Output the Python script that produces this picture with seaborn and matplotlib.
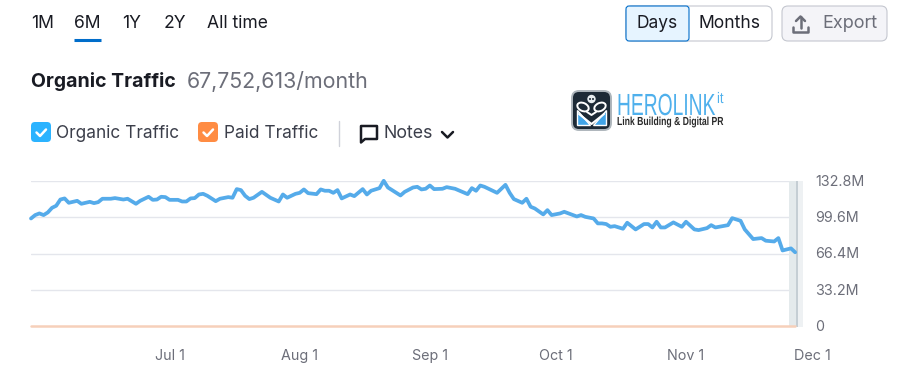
import matplotlib
matplotlib.use("Agg")
import matplotlib.pyplot as plt
import matplotlib.patches as mp
import matplotlib.patheffects as pe
from matplotlib.transforms import Affine2D, ScaledTranslation
import pandas as pd
import seaborn as sns

# days counted from the first day on the chart (May 29)
start = "2024-05-29"
organic_days = [0, 1, 2, 3, 4, 5, 6, 7, 8, 9, 11, 12, 14, 15, 16, 17, 19, 20, 22, 23, 25, 26, 28, 29, 30, 31,
                32, 33, 35, 36, 37, 38, 39, 40, 41, 42, 44, 45, 47, 48, 49, 50, 51, 52, 53, 55, 57, 59, 60, 61,
                63, 64, 65, 66, 68, 69, 70, 71, 72, 73, 74, 76, 77, 79, 80, 81, 83, 84, 85, 86, 88, 89, 91, 92,
                93, 94, 95, 96, 98, 99, 101, 104, 105, 106, 107, 108, 111, 113, 114, 115, 117, 118, 119, 120,
                122, 123, 124, 126, 127, 130, 131, 132, 134, 135, 136, 137, 138, 139, 141, 142, 144, 146, 147,
                148, 149, 150, 151, 153, 155, 156, 158, 159, 161, 162, 163, 166, 167, 169, 170, 172, 174, 175,
                177, 178, 179, 181, 182]
organic_values = [98.6, 101.7, 103.2, 101.7, 104.1, 108.3, 110.2, 115.9, 116.9, 112.9, 114.7, 112.0, 113.8, 112.6,
                  113.5, 116.6, 116.6, 117.2, 115.9, 116.6, 112.0, 114.7, 118.4, 115.6, 115.9, 118.4, 118.1, 115.6,
                  115.6, 114.1, 114.1, 116.9, 117.2, 120.5, 121.1, 119.3, 114.4, 116.6, 118.1, 117.5, 125.4, 124.5,
                  119.3, 116.3, 117.5, 122.9, 117.5, 114.1, 120.5, 117.5, 121.1, 122.0, 125.1, 121.7, 120.8, 125.1,
                  123.9, 123.9, 122.0, 124.5, 116.9, 120.5, 119.0, 125.4, 120.5, 123.9, 126.3, 133.0, 126.9, 124.5,
                  119.6, 122.9, 126.9, 127.5, 125.1, 125.7, 128.7, 125.4, 125.7, 127.2, 125.7, 120.8, 126.3, 123.9,
                  128.7, 127.5, 122.0, 129.3, 122.0, 116.3, 112.9, 116.6, 109.3, 107.7, 102.3, 106.2, 101.7, 103.2,
                  104.7, 100.4, 101.7, 100.1, 98.6, 94.1, 94.1, 93.5, 91.0, 91.6, 89.2, 94.7, 88.6, 93.5, 93.5,
                  90.4, 95.6, 90.4, 90.4, 95.0, 91.0, 95.6, 88.6, 88.0, 89.8, 92.5, 90.4, 92.5, 98.9, 96.5, 88.6,
                  79.8, 80.7, 78.3, 77.6, 80.7, 69.4, 71.3, 67.75]
paid_days = [0, 60, 120, 182]
paid_values = [0.4, 0.4, 0.4, 0.4]
y_ticks = [0, 33.2, 66.4, 99.6, 132.8]
y_labels = ["0", "33.2M", "66.4M", "99.6M", "132.8M"]
x_ticks = ["2024-07-01", "2024-08-01", "2024-09-01", "2024-10-01", "2024-11-01"]
x_labels = ["Jul 1", "Aug 1", "Sep 1", "Oct 1", "Nov 1"]
last_tick = "2024-12-01"
last_label = "Dec 1"

sns.set_theme(style="white")
plt.rcParams["font.family"] = ["Inter", "DejaVu Sans"]

W, H = 902, 385
GRAY = "#6c6e79"
DARK = "#191b23"
BLUE = "#55abea"

fig = plt.figure(figsize=(W / 100, H / 100), dpi=100)
ax = fig.add_axes([31 / W, 1 - 326.5 / H, (796 - 31) / W, (326.5 - 181) / H])

t0 = pd.Timestamp(start)
organic = pd.DataFrame({"date": t0 + pd.to_timedelta(organic_days, unit="D"), "value": organic_values})
paid = pd.DataFrame({"date": t0 + pd.to_timedelta(paid_days, unit="D"), "value": paid_values})

# hover band at the last day, drawn under the line
ax.axvspan(t0 + pd.Timedelta(days=180.5), t0 + pd.Timedelta(days=182.2), color="#e4eaec", lw=0, clip_on=False, zorder=2)
ax.axvspan(t0 + pd.Timedelta(days=182.2), t0 + pd.Timedelta(days=182.7), color="#c5ced4", lw=0, clip_on=False, zorder=2)
ax.axvspan(t0 + pd.Timedelta(days=182.7), t0 + pd.Timedelta(days=183.8), color="#eef1f3", lw=0, clip_on=False, zorder=2)

sns.lineplot(data=paid, x="date", y="value", color="#f6d0ba", lw=1.8, ax=ax, clip_on=False, zorder=3)
sns.lineplot(data=organic, x="date", y="value", color=BLUE, lw=2.7, ax=ax, clip_on=False, zorder=4,
             solid_joinstyle="round")

ax.set_ylim(0, 132.8)
ax.set_xlabel("")
ax.set_ylabel("")
ax.set_yticks(y_ticks, y_labels)
ax.set_xticks(pd.to_datetime(x_ticks), x_labels)
ax.set_xlim(t0, t0 + pd.Timedelta(days=182.2))
ax.yaxis.tick_right()
ax.tick_params(axis="y", length=0, pad=14, labelsize=10.3, labelcolor=GRAY)
ax.tick_params(axis="x", length=0, pad=16, labelsize=10.3, labelcolor=GRAY)
for lab in ax.get_yticklabels():
    lab.set_transform(lab.get_transform() + ScaledTranslation(0, 1 / 100, fig.dpi_scale_trans))
ax.grid(axis="y", color="#e4e6ec", lw=1)
ax.set_axisbelow(True)
sns.despine(ax=ax, left=True, bottom=True, right=True, top=True)
# Dec 1 sits past the end of the axes, so matplotlib would drop it as a tick
ax.text(pd.Timestamp(last_tick), -29.5 / 145.5 * 132.8, last_label, fontsize=10.3, color=GRAY,
        ha="center", va="center", clip_on=False)

# overlay in pixel coordinates for the page furniture around the chart
ui = fig.add_axes([0, 0, 1, 1], zorder=5)
ui.set_xlim(0, W)
ui.set_ylim(H, 0)
ui.axis("off")
ui.patch.set_alpha(0)


class Squeeze(pe.AbstractPathEffect):
    # squeezes glyphs sideways, no condensed font is installed
    def __init__(self, sx):
        super().__init__()
        self.sx = sx

    def draw_path(self, renderer, gc, tpath, affine, rgbFace=None):
        renderer.draw_path(gc, tpath, Affine2D().scale(self.sx, 1) + affine, rgbFace)


def box(x, y, w, h, fc, ec="none", r=4, lw=0.8, **kw):
    ui.add_patch(mp.FancyBboxPatch((x + r, y + r), w - 2 * r, h - 2 * r, boxstyle=f"round,pad={r}",
                                   fc=fc, ec=ec, lw=lw, **kw))


def txt(x, y, s, size=12.4, color=DARK, **kw):
    ui.text(x, y, s, fontsize=size, color=color, va="center", ha=kw.pop("ha", "left"), **kw)


# range tabs
for x, s in [(31, "1M"), (74, "6M"), (122, "1Y"), (164, "2Y"), (207, "All time")]:
    txt(x, 23.5, s, size=12.6)
ui.plot([74, 101], [40, 40], color="#006dca", lw=2.2, solid_capstyle="butt")

# title
txt(31, 81.5, "Organic Traffic", size=14, fontweight="bold")
txt(187, 81.5, "67,752,613/month", size=15.4, color=GRAY)

# legend
for x, fc, s, tx in [(31, "#2bb3ff", "Organic Traffic", 56), (198, "#ff8c43", "Paid Traffic", 224)]:
    box(x, 122, 20, 20, fc, r=4)
    ui.plot([x + 5.5, x + 9, x + 15], [132.5, 136, 129.5], color="white", lw=1.8)
    txt(tx, 133.5, s, color="#3b3e4a")
ui.plot([338.5, 338.5], [121, 146], color="#d0d2da", lw=1)

# notes icon and chevron
ui.add_patch(mp.Polygon([(361, 126), (377, 126), (377, 139), (365, 139), (361, 142.5)], closed=True,
                        fc="none", ec=DARK, lw=1.8, joinstyle="round"))
txt(383.5, 133.5, "Notes", size=12.8, color="#3b3e4a")
ui.plot([442, 447.5, 453], [132, 137.5, 132], color=DARK, lw=1.8)

# days / months / export buttons
box(626, 6, 146, 35, "white", "#c4c7cf", r=6)
box(626, 6, 63, 35, "#e6f4ff", "#006dca", r=3)
txt(657.5, 24, "Days", ha="center", size=12.5)
txt(730, 24, "Months", ha="center", size=12.6)
box(782, 6, 105, 35, "#f4f4f8", "#c4c7cf", r=6)
txt(822, 23.5, "Export", size=13, color=GRAY)
ui.plot([793, 793, 808, 808], [27, 32, 32, 27], color=GRAY, lw=1.8)
ui.plot([800.5, 800.5], [17, 28], color=GRAY, lw=1.8)
ui.plot([796, 800.5, 805], [21, 16.5, 21], color=GRAY, lw=1.8)

# logo: skull, chain links and blue wedges
box(572, 91, 39, 39, "#1d2a36", "#aeb6bc", r=7, lw=1.4)
ui.add_patch(mp.Polygon([(577, 110), (577, 125), (590, 125)], fc="#42a5e8"))
ui.add_patch(mp.Polygon([(606, 110), (606, 125), (593, 125)], fc="#42a5e8"))
ui.plot([579, 591.5, 604], [114, 124, 114], color="white", lw=1.5)
ui.add_patch(mp.Ellipse((583, 107), 12, 8, angle=25, fc="none", ec="white", lw=1.4))
ui.add_patch(mp.Ellipse((600, 107), 12, 8, angle=-25, fc="none", ec="white", lw=1.4))
ui.plot([587, 591.5, 596], [112, 115, 112], color="white", lw=1.4)
ui.add_patch(mp.Circle((591.5, 99), 4.2, fc="#e8edf0", ec="none"))
ui.add_patch(mp.Circle((590, 99), 1, fc="#1d2a36", ec="none"))
ui.add_patch(mp.Circle((593, 99), 1, fc="#1d2a36", ec="none"))
ui.text(617, 115, "HEROLINK", fontsize=22, color="#4fb0ec", va="baseline", family="Liberation Sans",
        path_effects=[Squeeze(0.63)])
ui.text(717, 103, "it", fontsize=11, color="#4fb0ec", va="baseline", family="Liberation Sans",
        path_effects=[Squeeze(0.85)])
ui.text(617, 125, "Link Building & Digital PR", fontsize=8.4, color="#2a2a2a", va="baseline", fontweight="bold",
        family="Liberation Sans", path_effects=[Squeeze(0.74)])

fig.savefig("out.png", dpi=100)
